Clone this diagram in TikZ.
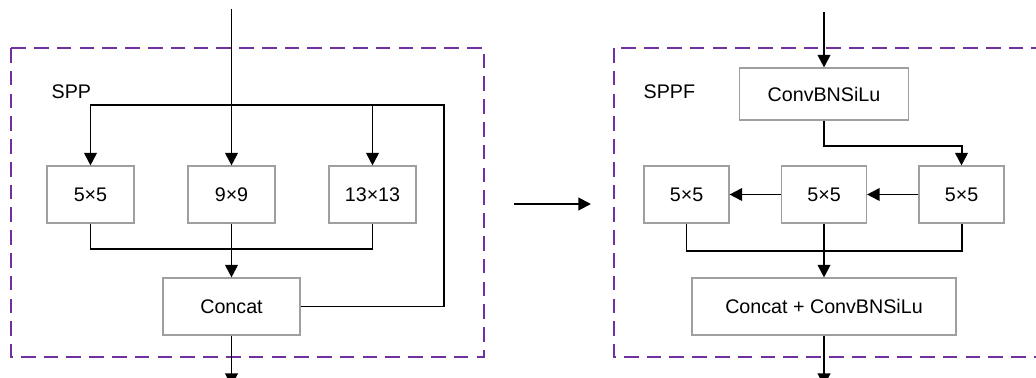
\documentclass[tikz,border=0pt]{standalone}
\usepackage{fontspec}
\setmainfont{Liberation Sans}
\usetikzlibrary{arrows.meta,positioning}
\definecolor{grouppurple}{RGB}{112,48,160}

\begin{document}
\begin{tikzpicture}[x=0.025cm, y=-0.025cm, >={Triangle[length=9pt,width=9pt]},
  line width=1.4pt, font=\fontsize{14}{17}\selectfont,
  block/.style={draw=gray!75, line width=0.8pt, fill=white, minimum height=57*0.025cm, inner sep=0pt},
  group/.style={draw=grouppurple, dash pattern=on 10.4pt off 5.8pt, line width=1.4pt}]

  \useasboundingbox (0,0) rectangle (1036,377);

  \draw[group] (11,48) rectangle (484,357);
  \draw[group] (614,48) rectangle (1045,357);

  \node[anchor=west] (spp) at (46,92) {SPP};
  \node[anchor=west] (sppf) at (638,92) {SPPF};

  \node[block, minimum width=87*0.025cm] (p5) at (90.5,194.5) {5×5};
  \node[block, minimum width=87*0.025cm] (p9) at (231.5,194.5) {9×9};
  \node[block, minimum width=87*0.025cm] (p13) at (372.5,194.5) {13×13};
  \node[block, minimum width=137*0.025cm] (cat) at (231.5,306.5) {Concat};

  \node[block, minimum width=169*0.025cm, minimum height=52*0.025cm] (conv) at (824,94) {ConvBNSiLu};
  \node[block, minimum width=85*0.025cm] (m1) at (686.5,194.5) {5×5};
  \node[block, minimum width=85*0.025cm] (m2) at (824,194.5) {5×5};
  \node[block, minimum width=85*0.025cm] (m3) at (961.5,194.5) {5×5};
  \node[block, minimum width=264*0.025cm] (cat2) at (824,306.5) {Concat + ConvBNSiLu};

  \coordinate (in1) at (231.5,9);
  \coordinate (loopR) at (444,105);
  \coordinate (merge1) at (231.5,249);
  \coordinate (out1) at (231.5,386);
  \coordinate (in2) at (824,12);
  \coordinate (turn2) at (824,146);
  \coordinate (merge2) at (824,251);
  \coordinate (out2) at (824,386);
  \coordinate (midL) at (514,204);
  \coordinate (midR) at (591,204);

  \draw[->] (in1) -- (p9.north);
  \draw[->] (cat.east) -| (loopR) -| (p5.north);
  \draw[->] (loopR -| p13.north) -- (p13.north);
  \draw (p5.south) |- (merge1) -| (p13.south);
  \draw[->] (p9.south) -- (cat.north);
  \draw[->] (cat.south) -- (out1);

  \draw[->] (midL) -- (midR);

  \draw[->] (in2) -- (conv.north);
  \draw[->] (conv.south) -- (turn2) -| (m3.north);
  \draw[->] (m3.west) -- (m2.east);
  \draw[->] (m2.west) -- (m1.east);
  \draw (m1.south) |- (merge2) -| (m3.south);
  \draw[->] (m2.south) -- (cat2.north);
  \draw[->] (cat2.south) -- (out2);

\end{tikzpicture}
\end{document}
